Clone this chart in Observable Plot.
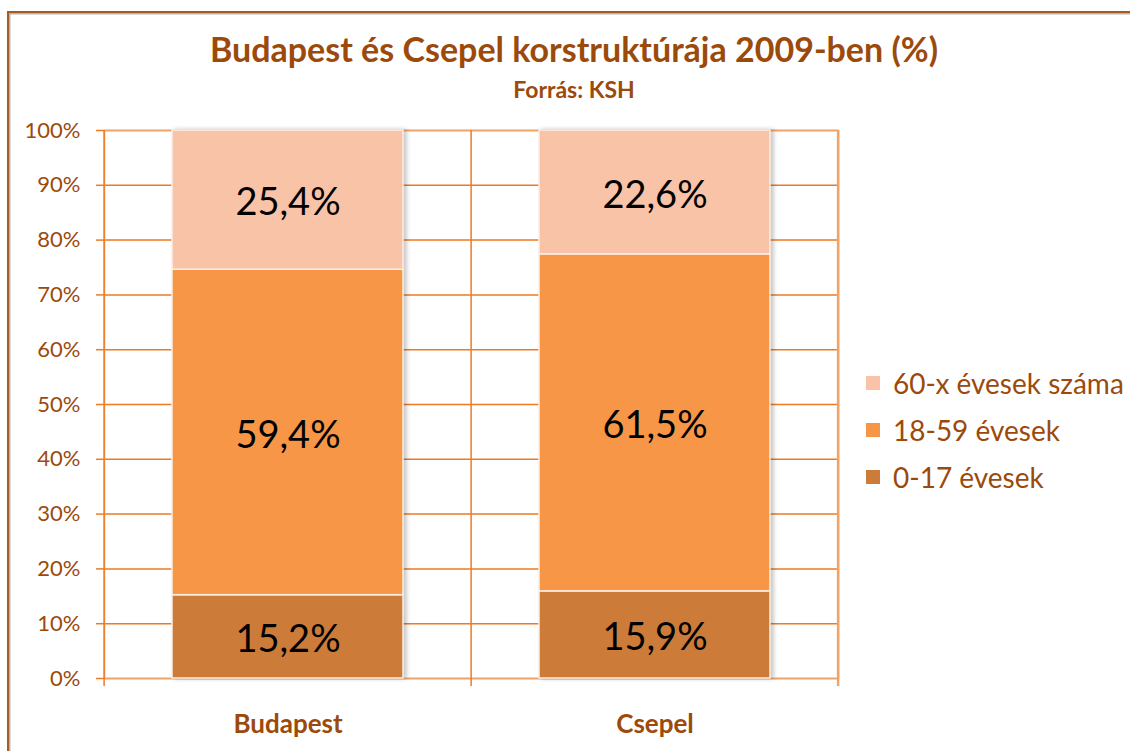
<!DOCTYPE html>
<html><head><meta charset="utf-8">
<script src="https://cdn.jsdelivr.net/npm/d3@7"></script>
<script src="https://cdn.jsdelivr.net/npm/@observablehq/plot@0.6"></script>
<style>
body{margin:0;background:#fff;font-family:Lato,"Open Sans",sans-serif;}
#wrap{position:relative;width:1130px;height:751px;overflow:hidden;background:#fff;}
#border{position:absolute;left:7px;top:11px;width:1200px;height:800px;border:2px solid #A65B22;box-shadow:inset 1.5px 1.5px 0 #B5B5B5;}
#title{position:absolute;left:0;width:1148px;top:28px;text-align:center;font-weight:700;font-size:34px;color:#9C4A0C;line-height:42px;}
#subtitle{position:absolute;left:0;width:1148px;top:75px;text-align:center;font-weight:700;font-size:23px;color:#9C4A0C;line-height:28px;}
#chart{position:absolute;left:0;top:0;}
#legend{position:absolute;left:866px;top:359px;}
.li{display:flex;align-items:center;height:47px;font-size:28px;color:#9C4A0C;}
.sw{width:14px;height:14px;margin-right:13px;}
</style>
</head><body>
<div id="wrap">
  <div id="border"></div>
  <div id="chart"></div>
  <div id="title">Budapest és Csepel korstruktúrája 2009-ben (%)</div>
  <div id="subtitle">Forrás: KSH</div>
  <div id="legend"></div>
</div>
<script>
const cities = ["Budapest", "Csepel"];
const groups = ["0-17 évesek", "18-59 évesek", "60-x évesek száma"];
const age0_17 = [15.2, 15.9];
const age18_59 = [59.4, 61.5];
const age60plus = [25.4, 22.6];
const colors = ["#CC7B39", "#F79646", "#F9C3A8"];
const yTicks = [0, 10, 20, 30, 40, 50, 60, 70, 80, 90, 100];
const legendOrder = ["60-x évesek száma", "18-59 évesek", "0-17 évesek"];

const series = [age0_17, age18_59, age60plus];
const data = [];
cities.forEach((c, i) => groups.forEach((g, j) => data.push({city: c, group: g, value: series[j][i]})));

const brown = "#9C4A0C";
const orange = "#EE7A22";
const fmt = v => d3.format(".1f")(v).replace(".", ",") + "%";

const plot = Plot.plot({
  width: 1130, height: 751,
  marginTop: 130, marginBottom: 73, marginLeft: 104, marginRight: 292,
  style: {fontFamily: "Lato, 'Open Sans', sans-serif", background: "transparent"},
  x: {domain: cities, paddingInner: 0.37, paddingOuter: 0.185, label: null},
  y: {domain: [0, 100], label: null},
  color: {domain: groups, range: colors},
  marks: [
    Plot.gridY(yTicks, {stroke: orange, strokeOpacity: 1, strokeWidth: 1.5}),
    Plot.frame({stroke: "#F0A468", strokeWidth: 1.5}),
    Plot.axisY(yTicks, {tickSize: 8, tickPadding: 16, stroke: orange, strokeWidth: 1.5, fill: brown, fontSize: 22, tickFormat: d => d + "%"}),
    Plot.axisX({tickSize: 0, tickPadding: 36, fill: brown, fontSize: 26, fontWeight: "bold"}),
    Plot.barY(data, {x: "city", y: "value", fill: "group", order: groups, stroke: "#FBEFE6", strokeWidth: 1.5}),
    Plot.text(data, Plot.stackY({x: "city", y: "value", z: "group", order: groups, text: d => fmt(d.value), fontSize: 38, fill: "black", dy: 3}))
  ]
});
document.getElementById("chart").appendChild(plot);

// vertical gridlines / category tick marks at band boundaries, from the x scale
const xs = plot.scale("x");
const ys = plot.scale("y");
const svg = d3.select(plot);
const step = xs.step;
const bounds = [];
const first = xs.apply(cities[0]) - (xs.paddingInner * step) / 2;
for (let i = 0; i <= cities.length; i++) bounds.push(first + i * step);
const y0 = ys.apply(0), y1 = ys.apply(100);
const g = svg.insert("g", "g[aria-label=bar]");
bounds.forEach((bx, i) => {
  g.append("line").attr("x1", bx).attr("x2", bx).attr("y1", y1).attr("y2", y0 + 8)
    .attr("stroke", i === cities.length ? "#F0A468" : orange).attr("stroke-width", i === cities.length ? 2.5 : 1.5);
});
svg.select("g[aria-label=bar]").style("filter", "drop-shadow(3px 0px 2px rgba(0,0,0,0.22))");

const lg = d3.select("#legend");
legendOrder.forEach(name => {
  const row = lg.append("div").attr("class", "li");
  row.append("div").attr("class", "sw").style("background", colors[groups.indexOf(name)]);
  row.append("span").text(name);
});
</script>
</body></html>
